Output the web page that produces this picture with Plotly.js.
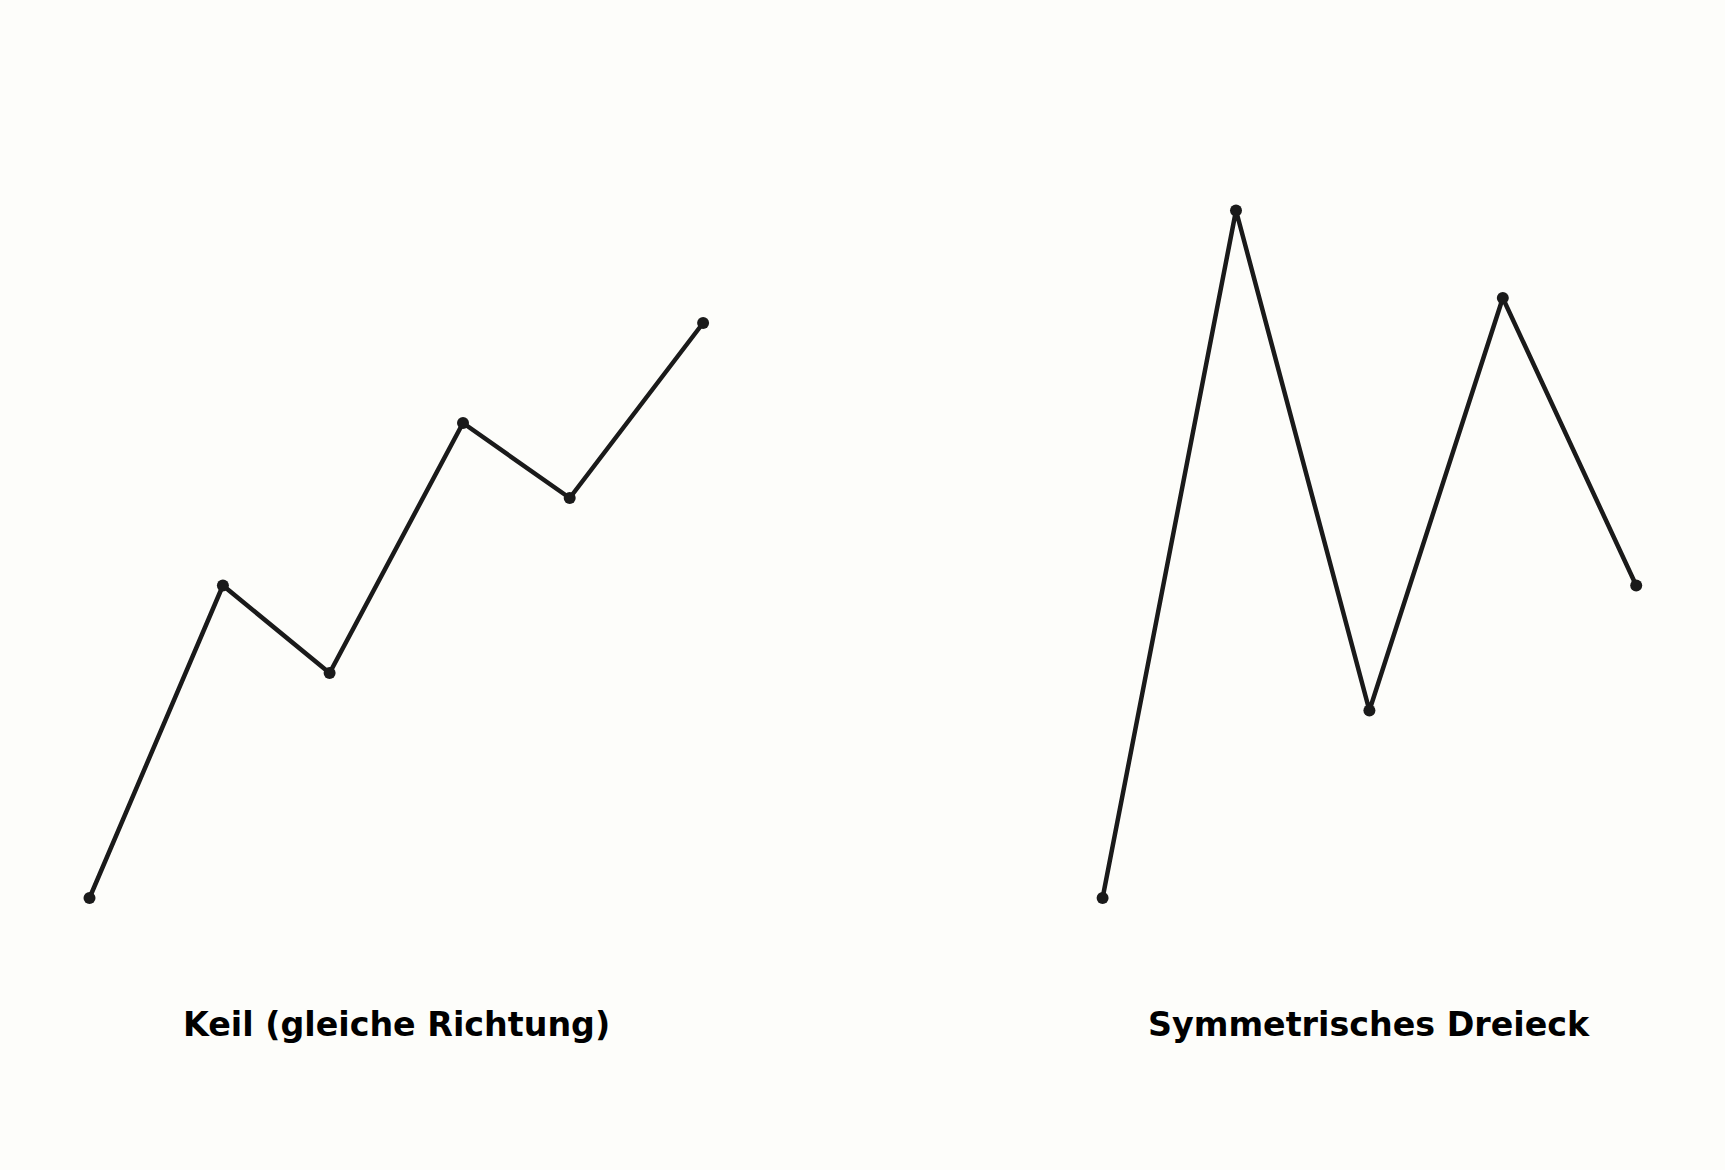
<!DOCTYPE html>
<html>
<head>
<meta charset="utf-8">
<script src="https://cdn.plot.ly/plotly-3.0.1.min.js"></script>
<style>
body{margin:0;padding:0;background:#fdfdfa;}
#chart{width:1725px;height:1170px;}
</style>
</head>
<body>
<div id="chart"></div>
<script>
// Keil (gleiche Richtung)
var keilX=[0,1,1.8,2.8,3.6,4.6];
var keilY=[0,5,3.6,7.6,6.4,9.2];
// Symmetrisches Dreieck
var dreieckX=[0,1,2,3,4];
var dreieckY=[0,11,3,9.6,5];
var titles=['Keil (gleiche Richtung)','Symmetrisches Dreieck'];

function make_trace(X,Y,xa,ya)
{
	return {
		x:X,
		y:Y,
		type:'scatter',
		mode:'lines+markers',
		line:{color:'#1a1a1a',width:4.5},
		marker:{color:'#1a1a1a',size:12},
		xaxis:xa,
		yaxis:ya
	};
}
function disp_patterns(chartname)
{
	var traceA=make_trace(keilX,keilY,'x','y');
	var traceB=make_trace(dreieckX,dreieckY,'x2','y2');
	var hidden={visible:false,showgrid:false,zeroline:false,fixedrange:true};
	var layout={
		width:1725,
		height:1170,
		margin:{l:0,r:0,t:0,b:0},
		paper_bgcolor:'#fdfdfa',
		plot_bgcolor:'#fdfdfa',
		showlegend:false,
		xaxis:Object.assign({},hidden,{domain:[0.01322,0.44626],range:[-0.5,5.1]}),
		yaxis:Object.assign({},hidden,{domain:[0.11496,0.98034],range:[-2.2,14]}),
		xaxis2:Object.assign({},hidden,{domain:[0.60052,0.98719],range:[-0.5,4.5],anchor:'y2'}),
		yaxis2:Object.assign({},hidden,{domain:[0.11496,0.98034],range:[-2.2,14],anchor:'x2'}),
		annotations:[
			{text:titles[0],x:2.3,y:-2.03,xref:'x',yref:'y',showarrow:false,xanchor:'center',yanchor:'middle',
			 font:{family:'DejaVu Sans',size:33.3,color:'#000000',weight:'bold'}},
			{text:titles[1],x:2,y:-2.03,xref:'x2',yref:'y2',showarrow:false,xanchor:'center',yanchor:'middle',
			 font:{family:'DejaVu Sans',size:33.3,color:'#000000',weight:'bold'}}
		]
	};
	Plotly.newPlot(document.getElementById(chartname),[traceA,traceB],layout,{displayModeBar:false,staticPlot:true});
}
disp_patterns('chart');
</script>
</body>
</html>
